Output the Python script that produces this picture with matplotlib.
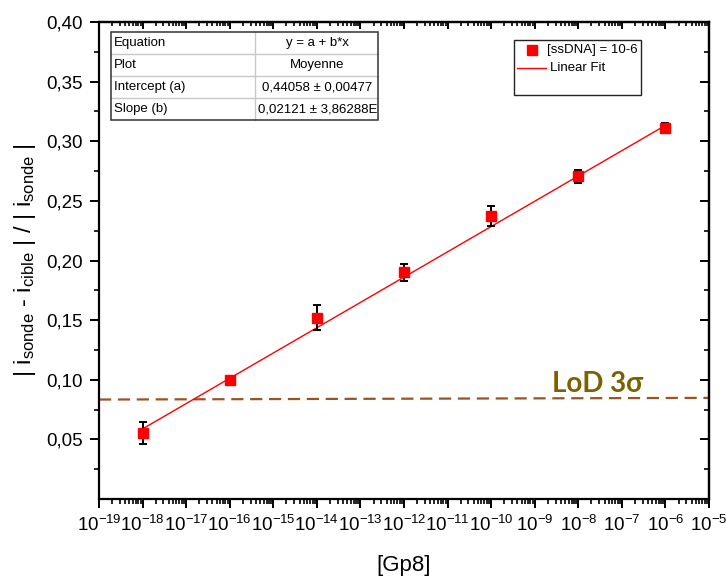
import matplotlib
matplotlib.use("Agg")
import matplotlib.pyplot as plt
import numpy as np
from matplotlib.patches import Rectangle
from matplotlib.lines import Line2D
from matplotlib.ticker import LogLocator, NullFormatter, FixedLocator

plt.rcParams.update({
    "font.family": ["Liberation Sans", "DejaVu Sans"],
    "mathtext.fontset": "custom",
    "mathtext.rm": "Liberation Sans",
    "mathtext.it": "Liberation Sans",
    "mathtext.default": "regular",
    "axes.unicode_minus": False,
})

# ---- data ---------------------------------------------------------------
conc = [1e-18, 1e-16, 1e-14, 1e-12, 1e-10, 1e-8, 1e-6]
ratio = [0.0553, 0.0996, 0.1522, 0.1900, 0.2373, 0.2705, 0.3110]
err = [0.0090, 0.0030, 0.0105, 0.0068, 0.0080, 0.0055, 0.0040]

fit_a, fit_b = 0.44058, 0.02121          # y = a + b*log10(x)
lod_x = [1e-19, 1e-5]
lod_y = [0.0834, 0.0848]

table_rows = [("Equation", "y = a + b*x"),
              ("Plot", "Moyenne"),
              ("Intercept (a)", "0,44058 ± 0,00477"),
              ("Slope (b)", "0,02121 ± 3,86288E")]

RED = "#ff0000"
LOD_C = "#9c5324"
LOD_T = "#7f6000"

# ---- canvas -------------------------------------------------------------
W, H = 726, 577
fig = plt.figure(figsize=(W / 100, H / 100), dpi=100)
ax = fig.add_axes([99 / W, 1 - 499 / H, 610 / W, 477 / H])

ax.set_xscale("log")
ax.set_xlim(1e-19, 1e-5)
ax.set_ylim(0, 0.40)

xfit = np.logspace(np.log10(conc[0]), np.log10(conc[-1]), 50)
ax.plot(xfit, fit_a + fit_b * np.log10(xfit), color=RED, lw=1.0, zorder=2)
ax.errorbar(conc, ratio, yerr=err, fmt="s", color=RED, ms=7.5, mec=RED,
            ecolor="black", elinewidth=1.4, capsize=3.2, capthick=1.4, zorder=3)
ax.plot(lod_x, lod_y, color=LOD_C, lw=1.6, dashes=(5.5, 3.0), zorder=1)
ax.text(2.5e-9, 0.0895, "LoD 3σ", family=["Lato", "DejaVu Sans"], fontsize=20,
        fontweight="bold", color=LOD_T, ha="left", va="baseline")

# axes / ticks
for s in ax.spines.values():
    s.set_linewidth(1.6)
ax.xaxis.set_major_locator(LogLocator(base=10, numticks=30))
ax.xaxis.set_minor_locator(LogLocator(base=10, subs=np.arange(2, 10), numticks=30))
ax.xaxis.set_minor_formatter(NullFormatter())
ax.yaxis.set_major_locator(FixedLocator(np.arange(0.05, 0.401, 0.05)))
ax.yaxis.set_minor_locator(FixedLocator(np.arange(0.025, 0.40, 0.05)))
ax.yaxis.set_major_formatter(plt.FuncFormatter(lambda v, p: f"{v:.2f}".replace(".", ",")))
ax.tick_params(which="major", direction="out", length=6.5, width=1.4,
               labelsize=13.5, pad=5)
ax.tick_params(which="minor", direction="out", length=3.5, width=1.2)

top = ax.secondary_xaxis("top")
top.xaxis.set_major_locator(LogLocator(base=10, numticks=30))
top.xaxis.set_minor_locator(LogLocator(base=10, subs=np.arange(2, 10), numticks=30))
top.tick_params(which="major", direction="in", length=5, width=1.4, labeltop=False)
top.tick_params(which="minor", direction="in", length=3, width=1.2)
top.xaxis.set_minor_formatter(NullFormatter())
top.spines["top"].set_linewidth(1.6)

right = ax.secondary_yaxis("right")
right.yaxis.set_major_locator(FixedLocator(np.arange(0.05, 0.401, 0.05)))
right.yaxis.set_minor_locator(FixedLocator(np.arange(0.025, 0.40, 0.05)))
right.tick_params(which="major", direction="in", length=6.5, width=1.4, labelright=False)
right.tick_params(which="minor", direction="in", length=3.5, width=1.2)
right.spines["right"].set_linewidth(1.6)

ax.set_xlabel("[Gp8]", fontsize=16, labelpad=14)
ax.set_ylabel("| i$_{sonde}$ - i$_{cible}$ | / | i$_{sonde}$ |", fontsize=17, labelpad=6)

# ---- overlay in pixel units: fit table + legend -------------------------
ov = fig.add_axes([0, 0, 1, 1], facecolor="none")
ov.set_xlim(0, W); ov.set_ylim(H, 0); ov.axis("off")

tx0, tx1, tcol, ty0, rh = 111, 378, 255, 32, 22
ov.add_patch(Rectangle((tx0, ty0), tx1 - tx0, rh * 4, fc="white", ec="none", zorder=5))
for i, (k, v) in enumerate(table_rows):
    yc = ty0 + rh * (i + 0.5)
    ov.text(tx0 + 3, yc, k, fontsize=9.5, ha="left", va="center", zorder=7)
    t = ov.text((tcol + tx1) / 2 + 1, yc, v, fontsize=9.5, ha="center", va="center", zorder=7)
    t.set_clip_path(Rectangle((tcol, ty0), tx1 - tcol - 1, rh * 4, transform=ov.transData))
    if i:
        ov.plot([tx0, tx1], [ty0 + rh * i] * 2, color="#c8c8c8", lw=1.0, zorder=6)
ov.plot([tcol, tcol], [ty0, ty0 + rh * 4], color="#c8c8c8", lw=1.0, zorder=6)
ov.add_patch(Rectangle((tx0, ty0), tx1 - tx0, rh * 4, fc="none", ec="#333333", lw=1.1, zorder=8))

lx0, lx1, ly0, ly1 = 514, 641, 40, 95
ov.add_patch(Rectangle((lx0, ly0), lx1 - lx0, ly1 - ly0, fc="white", ec="#222222", lw=1.0, zorder=5))
ov.add_line(Line2D([531.5], [50], marker="s", ms=6.5, color=RED, zorder=7))
ov.text(547, 50, "[ssDNA] = 10-6", fontsize=9.5, ha="left", va="center", zorder=7)
ov.add_line(Line2D([517, 546], [68, 68], color=RED, lw=1.0, zorder=7))
ov.text(550, 68, "Linear Fit", fontsize=9.5, ha="left", va="center", zorder=7)

fig.savefig("out.png", dpi=100)
